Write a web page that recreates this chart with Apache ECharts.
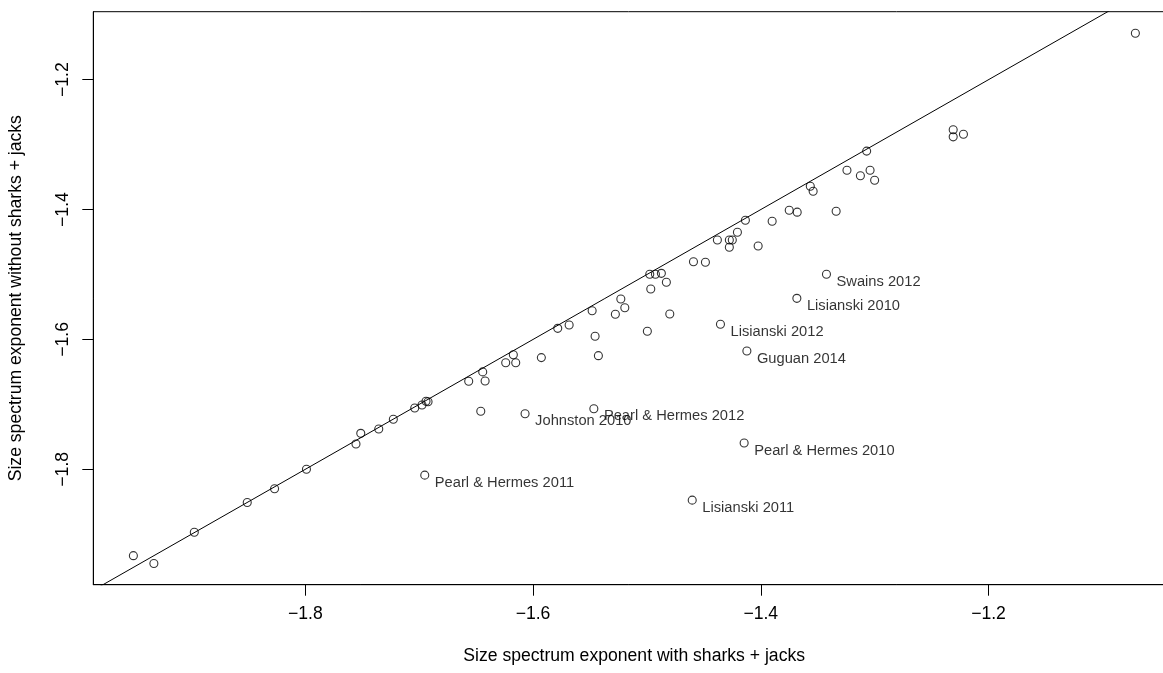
<!DOCTYPE html>
<html>
<head>
<meta charset="utf-8">
<script src="https://cdn.jsdelivr.net/npm/echarts@6/dist/echarts.min.js"></script>
<style>
html,body{margin:0;padding:0;background:#fff;}
#chart{width:1163px;height:673px;}
</style>
</head>
<body>
<div id="chart"></div>
<script>
// Size spectrum exponent with sharks + jacks (x) vs without (y)
const withSharks = [
  -1.951, -1.933, -1.8975, -1.851, -1.827, -1.799, -1.7555, -1.7513, -1.7355, -1.7227,
  -1.7039, -1.6975, -1.694, -1.6922, -1.6565, -1.6442, -1.6421, -1.6459, -1.624, -1.6152,
  -1.6173, -1.5927, -1.5783, -1.5683, -1.5455, -1.5426, -1.5481, -1.5277, -1.5229, -1.5194,
  -1.4996, -1.4966, -1.4975, -1.4925, -1.4873, -1.4829, -1.4799, -1.4591, -1.4486, -1.4381,
  -1.4276, -1.425, -1.4276, -1.4205, -1.4135, -1.4023, -1.39, -1.375, -1.368, -1.3565,
  -1.354, -1.3338, -1.3243, -1.3125, -1.307, -1.304, -1.300, -1.231, -1.231, -1.222,
  -1.071
];
const withoutSharks = [
  -1.933, -1.945, -1.897, -1.851, -1.830, -1.800, -1.761, -1.7446, -1.738, -1.723,
  -1.7056, -1.701, -1.6953, -1.696, -1.6645, -1.650, -1.664, -1.7107, -1.636, -1.636,
  -1.6235, -1.628, -1.5829, -1.5778, -1.5952, -1.625, -1.5558, -1.5613, -1.5378, -1.5511,
  -1.5875, -1.5224, -1.4997, -1.4997, -1.4982, -1.512, -1.5609, -1.4803, -1.4812, -1.4469,
  -1.4469, -1.4469, -1.458, -1.4349, -1.4165, -1.4561, -1.418, -1.401, -1.404, -1.3641,
  -1.3718, -1.4026, -1.3395, -1.348, -1.310, -1.3395, -1.3549, -1.277, -1.288, -1.284,
  -1.1285
];
// Labelled studies
const studyNames = [
  'Swains 2012', 'Lisianski 2010', 'Lisianski 2012', 'Guguan 2014', 'Johnston 2010',
  'Pearl & Hermes 2012', 'Pearl & Hermes 2010', 'Pearl & Hermes 2011', 'Lisianski 2011'
];
const studyWithSharks = [-1.3423, -1.3683, -1.4354, -1.4122, -1.607, -1.5466, -1.4146, -1.6951, -1.4602];
const studyWithoutSharks = [-1.4997, -1.5367, -1.5767, -1.6178, -1.7144, -1.7067, -1.7595, -1.809, -1.8475];

const xTicks = [-1.8, -1.6, -1.4, -1.2];
const yTicks = [-1.8, -1.6, -1.4, -1.2];
const xRange = [-1.9862, -1.0362];
const yRange = [-1.9777, -1.0953];
const identityLine = [-2.2, -0.9];

const FONT = '"Liberation Sans", Arial, Helvetica, sans-serif';
const AXIS_FS = 17.6;
const LABEL_FS = 14.7;
const fmt = v => String(v).replace('-', '\u2212');

const chart = echarts.init(document.getElementById('chart'), null, {renderer: 'canvas'});

const points = withSharks.map((x, i) => [x, withoutSharks[i]]);
const studyPoints = studyWithSharks.map((x, i) => ({value: [x, studyWithoutSharks[i]], name: studyNames[i]}));

const axisCommon = {
  type: 'value',
  scale: true,
  splitLine: {show: false},
  axisLine: {show: true, onZero: false, lineStyle: {color: '#000', width: 1}},
  axisTick: {show: true, length: 11, lineStyle: {color: '#000', width: 1}},
  nameTextStyle: {color: '#000', fontSize: AXIS_FS, fontFamily: FONT},
  nameLocation: 'middle'
};

chart.setOption({
  animation: false,
  backgroundColor: '#fff',
  grid: {
    left: 93.3, top: 11.7, width: 1081.7, height: 573,
    containLabel: false,
    outerBoundsMode: 'none',
    show: true, borderColor: '#000', borderWidth: 1, backgroundColor: 'transparent'
  },
  xAxis: Object.assign({}, axisCommon, {
    min: xRange[0], max: xRange[1],
    name: 'Size spectrum exponent with sharks + jacks',
    nameGap: 62.5,
    axisTick: Object.assign({}, axisCommon.axisTick, {customValues: xTicks}),
    axisLabel: {customValues: xTicks, formatter: fmt, color: '#000', fontSize: AXIS_FS, fontFamily: FONT, margin: 20.5}
  }),
  yAxis: Object.assign({}, axisCommon, {
    min: yRange[0], max: yRange[1],
    name: 'Size spectrum exponent without sharks + jacks',
    nameGap: 67.8,
    axisTick: Object.assign({}, axisCommon.axisTick, {customValues: yTicks}),
    axisLabel: {customValues: yTicks, formatter: fmt, color: '#000', fontSize: AXIS_FS, fontFamily: FONT, margin: 21.5, rotate: 90}
  }),
  series: [
    {
      type: 'line',
      data: [[identityLine[0], identityLine[0]], [identityLine[1], identityLine[1]]],
      showSymbol: false,
      symbol: 'none',
      clip: true,
      silent: true,
      lineStyle: {color: '#000', width: 1}
    },
    {
      type: 'scatter',
      data: points,
      symbol: 'circle',
      symbolSize: 8,
      clip: true,
      itemStyle: {color: 'rgba(0,0,0,0)', borderColor: '#000', borderWidth: 1.1}
    },
    {
      type: 'scatter',
      data: studyPoints,
      symbol: 'circle',
      symbolSize: 8,
      itemStyle: {color: 'rgba(0,0,0,0)', borderColor: '#000', borderWidth: 1.1},
      label: {
        show: true,
        position: 'right',
        distance: 5.5,
        offset: [0, 7.5],
        formatter: p => p.name,
        color: '#000',
        fontSize: LABEL_FS,
        fontFamily: FONT
      }
    }
  ]
});
</script>
</body>
</html>
